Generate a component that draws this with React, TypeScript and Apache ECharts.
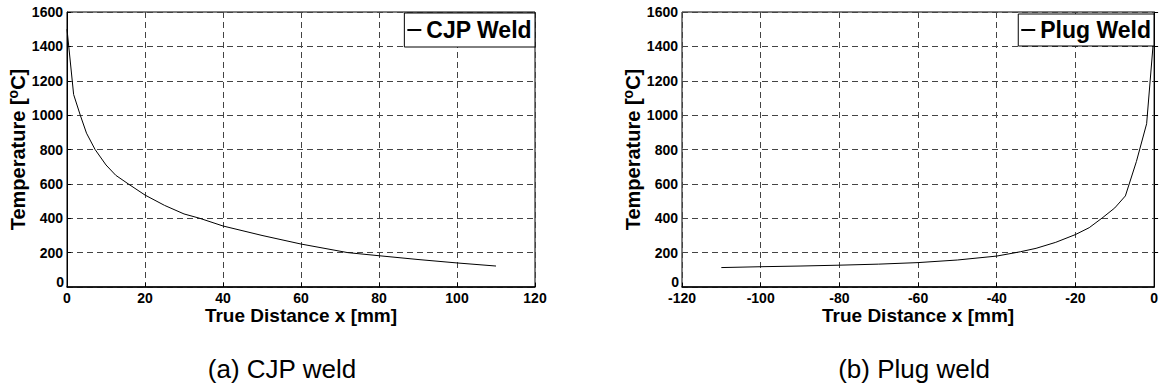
import React, { useEffect, useRef } from "react";
import * as echarts from "echarts";

// CJP weld: distance [mm] and temperature [°C]
const cjpDistance = [0, 1.7, 3.4, 5, 7.2, 10, 12.5, 15.7, 20, 25, 30, 34, 40, 50, 60, 72, 80, 90, 100, 110];
const cjpTemperature = [1500, 1120, 1000, 895, 800, 710, 650, 600, 535, 475, 425, 400, 355, 300, 250, 200, 182, 160, 140, 122];

// Plug weld: distance [mm] and temperature [°C]
const plugDistance = [-110, -100, -90, -80, -70, -60, -50, -40, -34, -30, -25, -20, -16.5, -13, -10, -7.3, -4.5, -1.9, 0];
const plugTemperature = [113, 118, 122, 127, 133, 142, 157, 180, 205, 225, 260, 305, 345, 405, 460, 530, 730, 950, 1480];

const seriesNames = ["CJP Weld", "Plug Weld"];
const captions = ["(a) CJP weld", "(b) Plug weld"];
const xAxisTitle = "True Distance x [mm]";
const yAxisTitle = "Temperature [{sup|o}C]";
const xRanges = [
  [0, 120],
  [-120, 0],
];
const yRange = [0, 1600];

const FONT = "'Liberation Sans', Arial, Helvetica, sans-serif";

export default function App() {
  const ref = useRef<HTMLDivElement>(null);

  useEffect(() => {
    document.body.style.margin = "0";
    if (!ref.current) return;
    const chart = echarts.init(ref.current, null, { renderer: "svg" });

    const grids = [
      { left: 67, top: 12, width: 468, height: 275 },
      { left: 682, top: 12, width: 473, height: 275 },
    ];
    const captionCenters = [282, 914];

    const splitLine = {
      show: true,
      lineStyle: { color: "#444", type: [6, 4] as any, width: 1 },
    };

    const xAxes = xRanges.map((r, i) => ({
      type: "value",
      gridIndex: i,
      min: r[0],
      max: r[1],
      interval: 20,
      axisLine: { show: true, lineStyle: { color: "#000", width: 1.5 } },
      axisTick: { show: true, inside: true, length: 4, lineStyle: { color: "#000" } },
      axisLabel: {
        color: "#000",
        fontFamily: FONT,
        fontWeight: "bold",
        fontSize: 14,
        margin: 4,
        formatter: (v: number) => String(v),
      },
      splitLine,
      name: xAxisTitle,
      nameLocation: "middle",
      nameGap: 19,
      nameMoveOverlap: false,
      nameTextStyle: {
        color: "#000",
        fontFamily: FONT,
        fontWeight: "bold",
        fontSize: 19,
      },
    }));

    const yAxes = [0, 1].map((i) => ({
      type: "value",
      gridIndex: i,
      min: yRange[0],
      max: yRange[1],
      interval: 200,
      axisLine: { show: true, lineStyle: { color: "#000", width: 1 } },
      axisTick: { show: true, inside: true, length: 4, lineStyle: { color: "#000" } },
      axisLabel: {
        color: "#000",
        fontFamily: FONT,
        fontWeight: "bold",
        fontSize: 14,
        margin: 4,
        showMinLabel: false,
        formatter: (v: number) => String(v),
      },
      splitLine,
      name: yAxisTitle,
      nameLocation: "middle",
      nameGap: 37,
      nameMoveOverlap: false,
      nameTextStyle: {
        color: "#000",
        fontFamily: FONT,
        fontWeight: "bold",
        fontSize: 20,
        rich: {
          sup: {
            fontFamily: FONT,
            fontWeight: "bold",
            fontSize: 14,
            color: "#000",
            verticalAlign: "bottom",
            padding: [0, 0, 10, 0],
          },
        },
      },
    }));

    const legendText = { color: "#000", fontFamily: FONT, fontWeight: "bold", fontSize: 23, lineHeight: 24 };

    const option = {
      animation: false,
      backgroundColor: "#fff",
      grid: grids.map((g) => ({
        ...g,
        show: true,
        borderColor: "#000",
        borderWidth: 1,
        backgroundColor: "transparent",
      })),
      xAxis: xAxes,
      yAxis: yAxes,
      legend: [
        {
          data: [seriesNames[0]],
          right: 1161 - 535,
          top: 13,
          orient: "vertical",
          backgroundColor: "#fff",
          borderColor: "#000",
          borderWidth: 1,
          padding: [5, 3, 5, 2],
          itemWidth: 14,
          itemHeight: 2,
          textStyle: legendText,
          z: 10,
        },
        {
          data: [seriesNames[1]],
          right: 1161 - 1154,
          top: 14,
          orient: "vertical",
          backgroundColor: "#fff",
          borderColor: "#000",
          borderWidth: 1,
          padding: [4, 3, 4, 2],
          itemWidth: 14,
          itemHeight: 2,
          textStyle: legendText,
          z: 10,
        },
      ],
      series: [
        {
          name: seriesNames[0],
          type: "line",
          xAxisIndex: 0,
          yAxisIndex: 0,
          data: cjpDistance.map((x, i) => [x, cjpTemperature[i]]),
          symbol: "none",
          lineStyle: { color: "#000", width: 1 },
          itemStyle: { color: "#000" },
          z: 3,
        },
        {
          name: seriesNames[1],
          type: "line",
          xAxisIndex: 1,
          yAxisIndex: 1,
          data: plugDistance.map((x, i) => [x, plugTemperature[i]]),
          symbol: "none",
          lineStyle: { color: "#000", width: 1 },
          itemStyle: { color: "#000" },
          z: 3,
        },
      ],
      graphic: [
        ...captions.map((c, i) => ({
          type: "text",
          x: captionCenters[i],
          y: 369,
          style: {
            text: c,
            fill: "#000",
            fontFamily: FONT,
            fontSize: 26,
            textAlign: "center",
            textVerticalAlign: "middle",
          },
        })),
        // y-axis "0" labels, placed just above the x-axis tick labels
        ...grids.map((g) => ({
          type: "text",
          x: g.left - 3,
          y: g.top + g.height + 2,
          style: {
            text: String(yRange[0]),
            fill: "#000",
            fontFamily: FONT,
            fontWeight: "bold",
            fontSize: 14,
            textAlign: "right",
            textVerticalAlign: "bottom",
          },
        })),
      ],
    };

    chart.setOption(option as any);
    return () => chart.dispose();
  }, []);

  return <div ref={ref} style={{ width: 1161, height: 392 }} />;
}
